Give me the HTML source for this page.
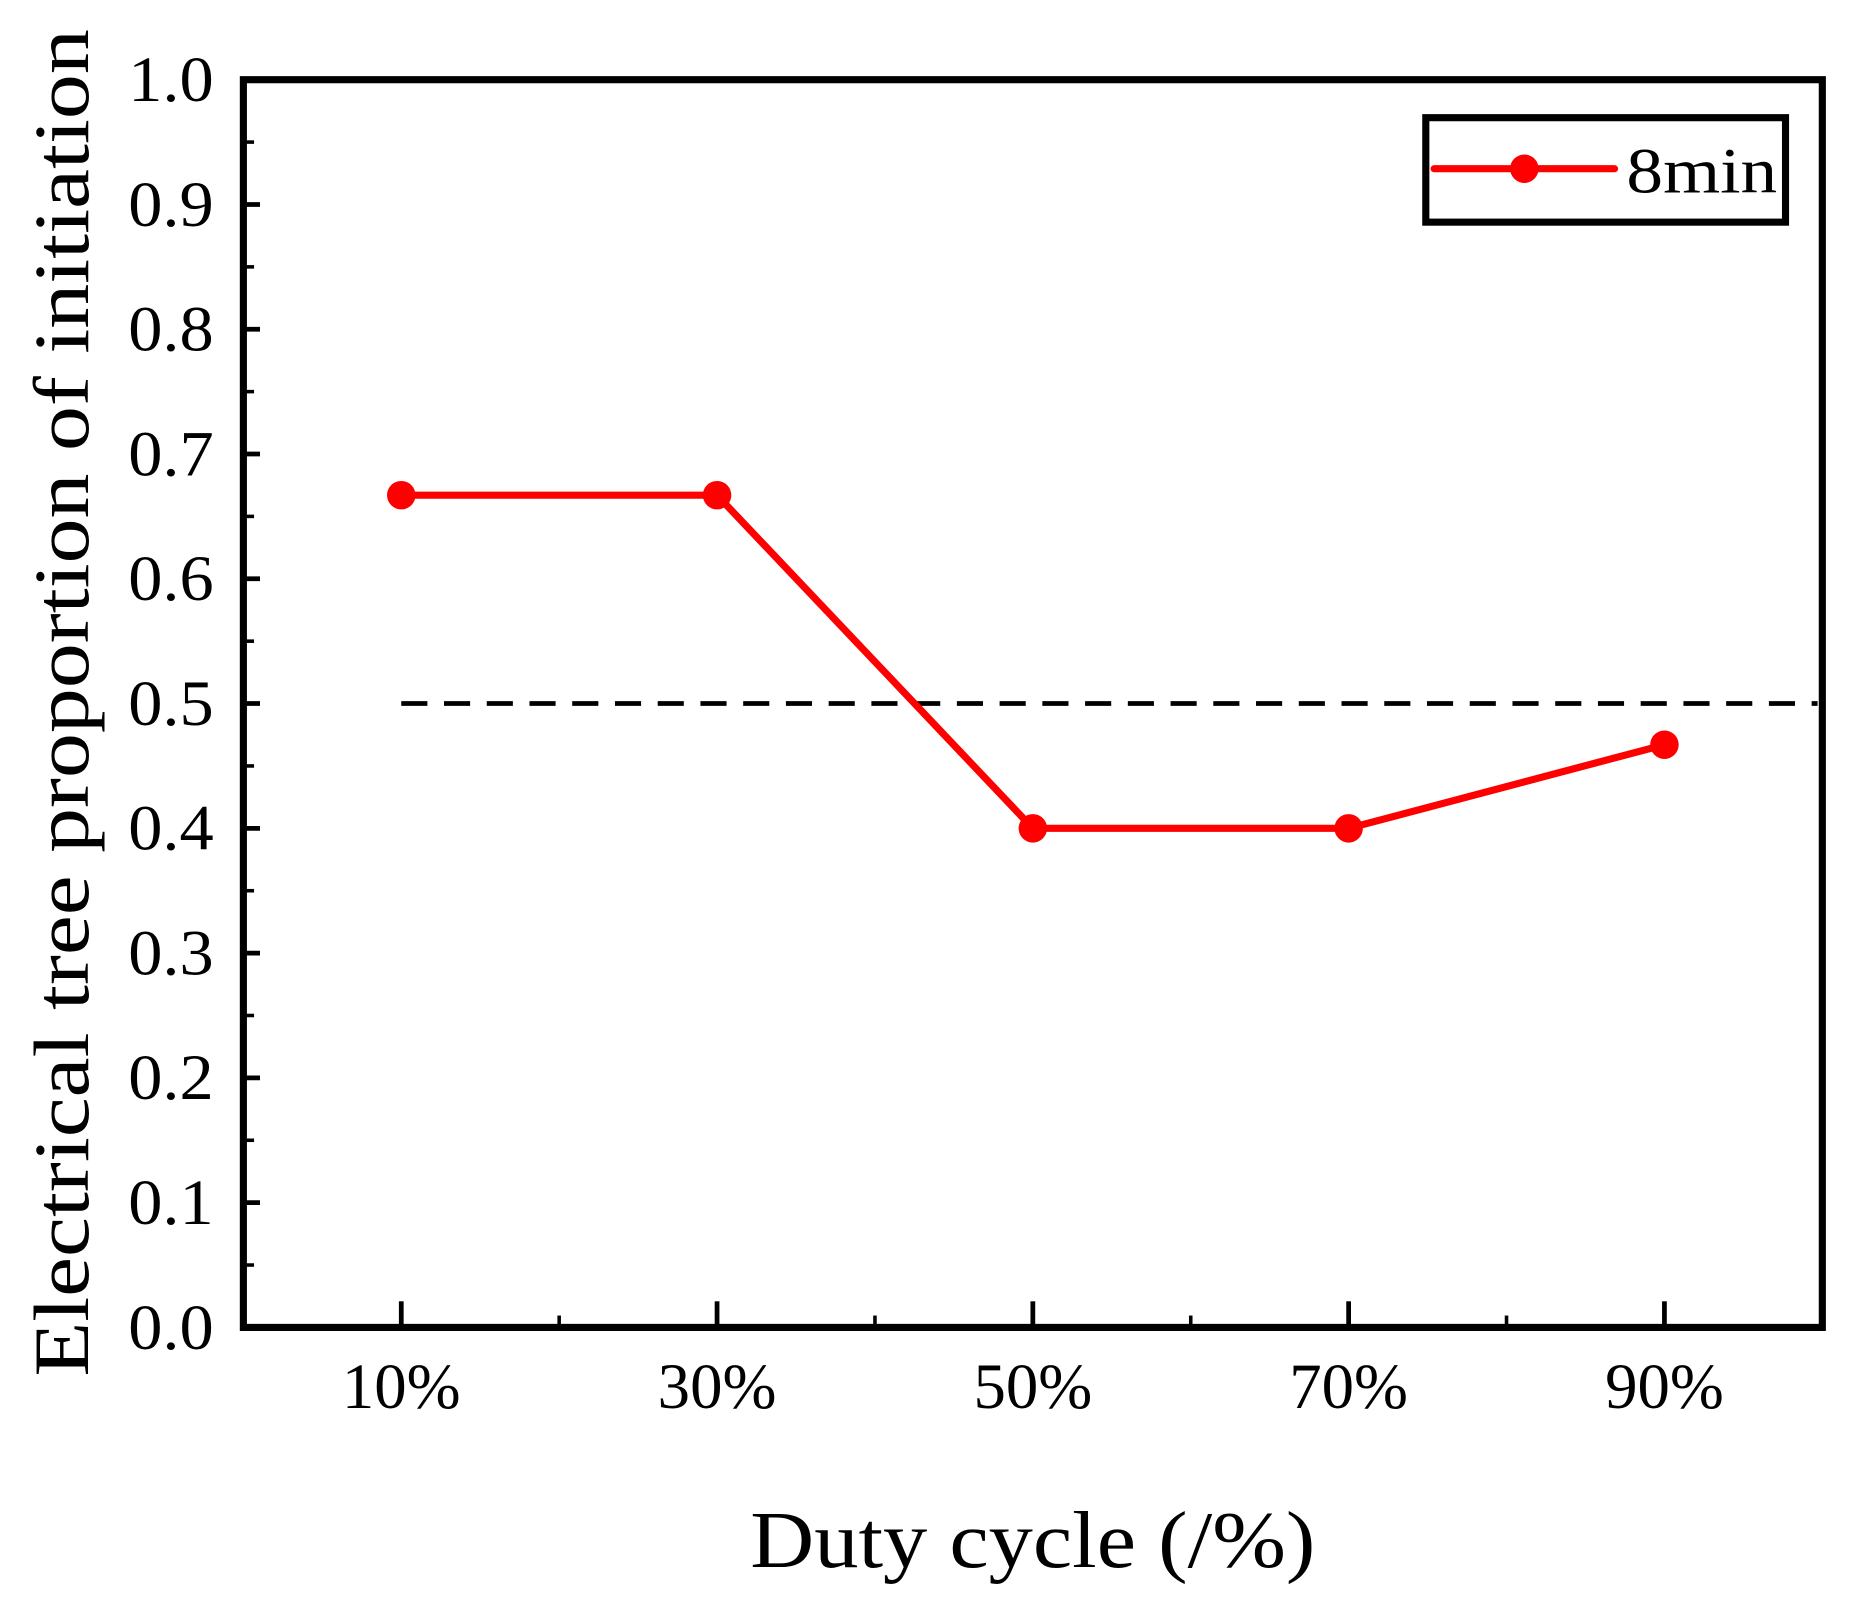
<!DOCTYPE html>
<html><head><meta charset="utf-8"><style>html,body{margin:0;padding:0;background:#fff}svg{display:block}text{font-family:"Liberation Serif",serif;fill:#000}</style></head>
<body>
<svg id="chart" width="1852" height="1603" viewBox="0 0 1560 1350" xmlns="http://www.w3.org/2000/svg">
<g id="grid"></g>
<g id="marks"></g>
<rect x="205" y="67" width="1330" height="1051" fill="none" stroke="#000" stroke-width="6"/>
<text transform="translate(74,592) rotate(-90)" text-anchor="middle" font-size="66" textLength="1135" lengthAdjust="spacingAndGlyphs">Electrical tree proportion of initiation</text>
<text x="870" y="1320" text-anchor="middle" font-size="68" textLength="476" lengthAdjust="spacingAndGlyphs">Duty cycle (/%)</text>
<g>
<rect x="1201" y="99" width="303" height="88" fill="#fff" stroke="#000" stroke-width="6"/>
<line x1="1208" y1="142" x2="1360" y2="142" stroke="#f00" stroke-width="6" stroke-linecap="round"/>
<circle cx="1284" cy="142" r="12" fill="#f00"/>
<text x="1370" y="162" font-size="54" textLength="127" lengthAdjust="spacingAndGlyphs">8min</text>
</g>
</svg>
<script>
const categories = ["10%","30%","50%","70%","90%"];
const values = [0.667,0.667,0.4,0.4,0.467];
const yTicks = [0.0,0.1,0.2,0.3,0.4,0.5,0.6,0.7,0.8,0.9,1.0];
const refValue = [0.5];
const NS="http://www.w3.org/2000/svg";
const L=205,R=1535,T=67,B=1118;
function x(i){return L+(i+0.5)*(R-L)/categories.length;}
function y(v){return B-(v-0)/(1-0)*(B-T);}
function mk(tag,attrs,parent){const e=document.createElementNS(NS,tag);for(const k in attrs)e.setAttribute(k,attrs[k]);parent.appendChild(e);return e;}
const g=document.getElementById('grid'), m=document.getElementById('marks');
yTicks.forEach((v,i)=>{
  const t=mk('line',{x1:L,x2:L+14,y1:y(v),y2:y(v),stroke:'#000','stroke-width':4},g);
  
  
  const lb=mk('text',{x:180,y:y(v)+18,'text-anchor':'end','font-size':54,textLength:72,lengthAdjust:'spacingAndGlyphs'},g);
  lb.textContent=v.toFixed(1);
  
  
  if(i<yTicks.length-1){
    const mv=(v+yTicks[i+1])/2;
    const mt=mk('line',{x1:L,x2:L+9,y1:y(mv),y2:y(mv),stroke:'#000','stroke-width':3},g);
    
    
  }
});
categories.forEach((c,i)=>{
  const t=mk('line',{x1:x(i),x2:x(i),y1:B,y2:B-22,stroke:'#000','stroke-width':4},g);
  
  
  const lb=mk('text',{x:x(i),y:1186,'text-anchor':'middle','font-size':54,textLength:100,lengthAdjust:'spacingAndGlyphs'},g);
  lb.textContent=c;
  
  
  if(i<categories.length-1){
    const mt=mk('line',{x1:x(i+0.5),x2:x(i+0.5),y1:B,y2:B-10,stroke:'#000','stroke-width':3},g);
    
    
  }
});
const ref=mk('line',{x1:x(0),x2:R-4,y1:y(refValue[0]),y2:y(refValue[0]),stroke:'#000','stroke-width':4,'stroke-dasharray':'22 14'},m);


const pl=mk('polyline',{points:values.map((v,i)=>x(i)+','+y(v)).join(' '),fill:'none',stroke:'#f00','stroke-width':6},m);


values.forEach((v,i)=>{
  const c=mk('circle',{cx:x(i),cy:y(v),r:12,fill:'#f00'},m);
  
  
});
</script>
</body></html>
